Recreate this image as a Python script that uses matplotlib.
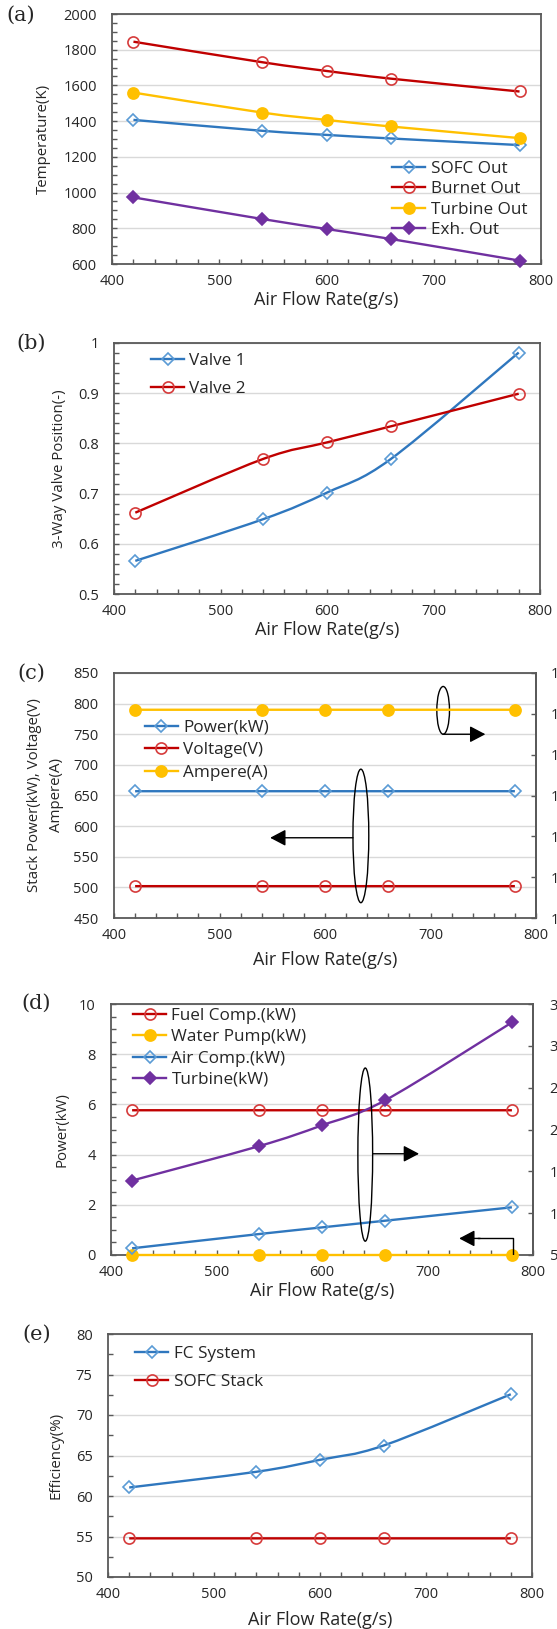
import numpy as np
import matplotlib
matplotlib.use("Agg")
import matplotlib.pyplot as plt
from matplotlib.path import Path
from matplotlib.patches import PathPatch, Ellipse
from matplotlib.lines import Line2D
from matplotlib.ticker import MultipleLocator

plt.rcParams["font.family"] = ["Open Sans", "DejaVu Sans"]

# data
air_flow = [420, 540, 600, 660, 780]

# (a) temperatures (K)
sofc_out = [1407, 1346, 1323, 1303, 1266]
burner_out = [1845, 1730, 1681, 1638, 1566]
turbine_out = [1560, 1448, 1407, 1370, 1305]
exh_out = [973, 852, 796, 740, 619]

# (b) 3-way valve positions
valve1 = [0.566, 0.649, 0.702, 0.769, 0.981]
valve2 = [0.662, 0.769, 0.802, 0.834, 0.899]

# (c) stack
stack_power = [657, 657, 657, 657, 657]
stack_voltage = [502, 502, 502, 502, 502]
stack_ampere = [1311, 1311, 1311, 1311, 1311]   # right axis

# (d) BOP power (kW)
fuel_comp = [22.3, 22.3, 22.3, 22.3, 22.3]      # right axis
water_pump = [0, 0, 0, 0, 0]                    # left axis
air_comp = [5.8, 7.5, 8.3, 9.1, 10.7]           # right axis
turbine_kw = [13.9, 18.0, 20.5, 23.5, 32.8]     # right axis

# (e) efficiency (%)
fc_system = [61.05, 62.99, 64.47, 66.23, 72.56]
sofc_stack = [54.77, 54.77, 54.77, 54.77, 54.77]

BLUE, BLUE_M = "#2F77BE", "#5B9BD5"
RED, RED_M = "#C00000", "#D63B3B"
YEL = "#FFC000"
PUR = "#7030A0"
TXT = "#262626"
SPINE = "#595959"

TICK_FS = 10.5
LEG_FS = 12.3
XLAB_FS = 13
YLAB_FS = 10.8

W, H = 557, 1629
fig = plt.figure(figsize=(W / 100, H / 100), dpi=100)


def axes_px(l, t, r, b):
    return fig.add_axes([l / W, 1 - b / H, (r - l) / W, (b - t) / H])


def smooth_path(x, y):
    # Excel-like smoothed line (cubic bezier through the points)
    pts = np.column_stack([x, y]).astype(float)
    n = len(pts)
    verts, codes = [pts[0]], [Path.MOVETO]
    for i in range(n - 1):
        p0 = pts[i - 1] if i > 0 else pts[i]
        p1, p2 = pts[i], pts[i + 1]
        p3 = pts[i + 2] if i + 2 < n else pts[i + 1]
        verts += [p1 + (p2 - p0) / 6, p2 - (p3 - p1) / 6, p2]
        codes += [Path.CURVE4] * 3
    return Path(verts, codes)


def series(ax, y, color, marker, mec, mfc, ms, label, lw=1.7):
    ax.add_patch(PathPatch(smooth_path(air_flow, y), fill=False, edgecolor=color,
                           lw=lw, clip_on=False, zorder=3))
    ax.plot(air_flow, y, ls="none", marker=marker, ms=ms, mec=mec, mfc=mfc,
            mew=1.2, clip_on=False, zorder=4)
    return Line2D([], [], color=color, lw=lw, marker=marker, ms=ms, mec=mec,
                  mfc=mfc, mew=1.2, label=label)


def style(ax, ylim, major, minor, ylabel, ylab_x, xlab_y):
    ax.set_xlim(400, 800)
    ax.set_ylim(*ylim)
    ax.xaxis.set_major_locator(MultipleLocator(100))
    ax.xaxis.set_minor_locator(MultipleLocator(20))
    ax.yaxis.set_major_locator(MultipleLocator(major))
    if minor:
        ax.yaxis.set_minor_locator(MultipleLocator(minor))
    ax.tick_params(which="both", direction="in", length=3.5, width=1,
                   color=SPINE, labelsize=TICK_FS, labelcolor=TXT)
    ax.tick_params(axis="y", which="both", pad=11)
    ax.tick_params(axis="x", which="both", pad=7)
    ax.grid(axis="y", which="major", color="#D9D9D9", lw=1)
    ax.set_axisbelow(True)
    for s in ax.spines.values():
        s.set_color(SPINE)
        s.set_linewidth(1.3)
    ax.set_xlabel("Air Flow Rate(g/s)", fontsize=XLAB_FS, color=TXT)
    ax.xaxis.set_label_coords(0.5, xlab_y)
    ax.set_ylabel(ylabel, fontsize=YLAB_FS, color=TXT, linespacing=1.65)
    ax.yaxis.set_label_coords(ylab_x, 0.5)


def legend(ax, handles, x, y, spacing):
    ax.legend(handles=handles, loc="upper left", bbox_to_anchor=(x, y),
              frameon=False, fontsize=LEG_FS, handlelength=1.95, handletextpad=0.3,
              labelspacing=spacing, borderpad=0, borderaxespad=0, labelcolor=TXT)


def panel_letter(x, y, s):
    fig.text(x / W, 1 - y / H, s, family="DejaVu Serif", fontsize=15,
             ha="center", va="center", color=TXT)


def right_axis(ax, ylim, step, pad):
    rx = ax.twinx()
    rx.set_ylim(*ylim)
    rx.yaxis.set_major_locator(MultipleLocator(step))
    rx.tick_params(direction="in", length=3.5, width=1, color=SPINE,
                   labelsize=TICK_FS, labelcolor=TXT, pad=pad)
    for name, s in rx.spines.items():
        s.set_visible(name == "right")
        s.set_color(SPINE)
        s.set_linewidth(1.3)
    return rx


arrow = dict(arrowstyle="-|>,head_length=0.95,head_width=0.5", color="black",
             lw=1, shrinkA=0, shrinkB=0, mutation_scale=10)

# ---------------- (a)
ax = axes_px(112, 14, 541, 264)
h = [series(ax, sofc_out, BLUE, "D", BLUE_M, "none", 6, "SOFC Out"),
     series(ax, burner_out, RED, "o", RED_M, "none", 8, "Burnet Out"),
     series(ax, turbine_out, YEL, "o", YEL, YEL, 8, "Turbine Out"),
     series(ax, exh_out, PUR, "D", PUR, PUR, 6, "Exh. Out")]
style(ax, (600, 2000), 200, 50, "Temperature(K)", -0.142, -0.108)
legend(ax, h, 0.653, 0.412, 0.25)
panel_letter(21, 15, "(a)")

# ---------------- (b)
ax = axes_px(114, 343, 540, 594)
h = [series(ax, valve1, BLUE, "D", BLUE_M, "none", 6, "Valve 1"),
     series(ax, valve2, RED, "o", RED_M, "none", 8, "Valve 2")]
style(ax, (0.5, 1.0), 0.1, 0.02, "3-Way Valve Position(-)", -0.110, -0.108)
ax.yaxis.set_major_formatter(lambda v, p: f"{v:g}")
legend(ax, h, 0.087, 0.962, 0.75)
panel_letter(31, 343, "(b)")

# ---------------- (c)
ax = axes_px(114, 673, 536, 918)
rx = right_axis(ax, (1260, 1320), 10, 10.5)
h = [series(ax, stack_power, BLUE, "D", BLUE_M, "none", 6, "Power(kW)"),
     series(ax, stack_voltage, RED, "o", RED_M, "none", 8, "Voltage(V)"),
     series(rx, stack_ampere, YEL, "o", YEL, YEL, 8, "Ampere(A)")]
style(ax, (450, 850), 50, None, "Stack Power(kW), Voltage(V)\nAmpere(A)", -0.118, -0.135)
ax.tick_params(axis="y", length=0)
legend(rx, h, 0.073, 0.81, 0.4)
ax.add_patch(Ellipse((712, 789), 12, 78, fill=False, ec="black", lw=1, zorder=5))
ax.annotate("", xy=(752, 750), xytext=(712, 750), arrowprops=arrow)
ax.add_patch(Ellipse((634, 584), 15, 218, fill=False, ec="black", lw=1, zorder=5))
ax.annotate("", xy=(548, 581), xytext=(626.5, 581), arrowprops=arrow)
panel_letter(31, 673, "(c)")

# ---------------- (d)
ax = axes_px(111, 1004, 533, 1255)
rx = right_axis(ax, (5, 35), 5, 12)
h = [series(rx, fuel_comp, RED, "o", RED_M, "none", 8, "Fuel Comp.(kW)"),
     series(ax, water_pump, YEL, "o", YEL, YEL, 8, "Water Pump(kW)"),
     series(rx, air_comp, BLUE, "D", BLUE_M, "none", 6, "Air Comp.(kW)"),
     series(rx, turbine_kw, PUR, "D", PUR, PUR, 6, "Turbine(kW)")]
style(ax, (0, 10), 2, 0.5, "Power(kW)", -0.0995, -0.108)
legend(rx, h, 0.052, 0.983, 0.3)
rx.add_patch(Ellipse((641, 17.0), 14, 20.7, fill=False, ec="black", lw=1, zorder=5))
rx.annotate("", xy=(692, 17.1), xytext=(648, 17.1), arrowprops=arrow)
ax.plot([781, 781, 748], [0, 0.66, 0.66], color="black", lw=1, zorder=5)
ax.annotate("", xy=(730, 0.66), xytext=(750, 0.66), arrowprops=arrow)
panel_letter(36, 1003, "(d)")

# ---------------- (e)
ax = axes_px(108, 1334, 532, 1577)
h = [series(ax, fc_system, BLUE, "D", BLUE_M, "none", 6, "FC System"),
     series(ax, sofc_stack, RED, "o", RED_M, "none", 8, "SOFC Stack")]
style(ax, (50, 80), 5, 2.5, "Efficiency(%)", -0.104, -0.138)
legend(ax, h, 0.064, 0.952, 0.75)
panel_letter(37, 1334, "(e)")

fig.savefig("out.png", dpi=100)
